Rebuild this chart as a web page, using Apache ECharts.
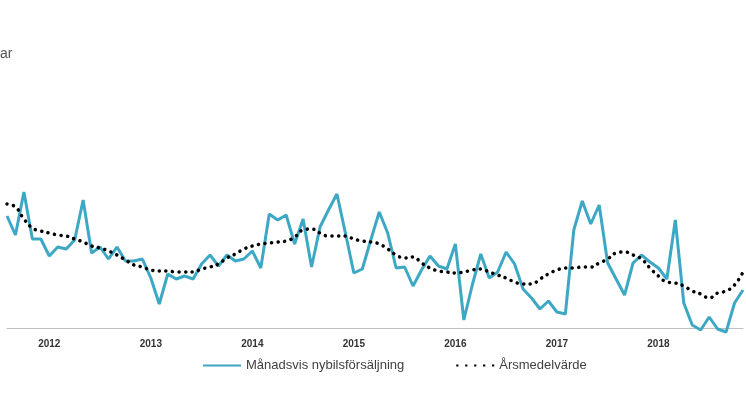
<!DOCTYPE html>
<html>
<head>
<meta charset="UTF-8">
<script src="https://cdn.jsdelivr.net/npm/echarts@6/dist/echarts.min.js"></script>
</head>
<body style="margin:0">
<div id="main" style="width:746px;height:419px;"></div>
<script>
// values (relative height, unitless)
var monthly = [216,235,192,239,239,256,247,249,240,200,253,247,259,247,261,261,259,278,304,274,279,276,279,264,255,266,255,261,259,251,268,214,220,215,244,219,267,227,210,194,233,
  273,269,240,212,233,268,267,286,270,256,266,269,244,320,285,254,278,272,252,264,289,298,309,301,312,314,230,201,224,205,263,279,295,263,255,262,268,279,220,303,325,330,317,329,332,303,290];
var yearly = [204,207,219,228,231,233,235,236,239,242,246,248,251,255,260,265,267,270,271,271,272,272,272,269,267,264,258,254,249,246,244,243,242,241,237,230,229,233,236,236,236,239,241,242,
  244,249,255,258,257,263,268,271,272,273,272,270,269,272,275,278,282,284,284,279,274,270,268,268,267,267,263,259,253,252,255,259,268,276,282,283,286,291,294,298,293,291,285,272];
var years = ['2012','2013','2014','2015','2016','2017','2018'];
var firstLabel = 5;

var cats = monthly.map(function (v, i) {
  var k = i - firstLabel;
  return (k >= 0 && k % 12 === 0) ? years[k / 12] : '';
});
function flip(a) { return a.map(function (y) { return 328 - y; }); }

var chart = echarts.init(document.getElementById('main'));
chart.setOption({
  animation: false,
  textStyle: { fontFamily: 'Liberation Sans' },
  graphic: [{ type: 'text', left: 0, top: 47, style: { text: 'ar', fontSize: 14, fill: '#555', fontFamily: 'Liberation Sans' } }],
  grid: { left: 7, right: -7, top: 0, bottom: 91 },
  legend: {
    bottom: 42, left: 198, itemWidth: 38, itemHeight: 10, itemGap: 52,
    textStyle: { fontSize: 13, color: '#404040' },
    data: [
      { name: 'Månadsvis nybilsförsäljning', icon: 'path://M0,4L38,4L38,6L0,6Z', itemStyle: { color: '#3da8c4' } },
      { name: 'Årsmedelvärde', icon: 'path://M0,4L2,4L2,6L0,6ZM8,4L10,4L10,6L8,6ZM16,4L18,4L18,6L16,6ZM24,4L26,4L26,6L24,6ZM32,4L34,4L34,6L32,6Z', itemStyle: { color: '#000' } }
    ]
  },
  xAxis: {
    type: 'category', data: cats, boundaryGap: false,
    axisLine: { lineStyle: { color: '#bfbfbf' } },
    axisTick: { show: false },
    axisLabel: { interval: 0, fontSize: 10, fontWeight: 'bold', color: '#333', margin: 11 }
  },
  yAxis: { type: 'value', min: 0, max: 328, show: false, splitLine: { show: false } },
  series: [
    { name: 'Månadsvis nybilsförsäljning', type: 'line', data: flip(monthly), symbol: 'none', clip: false,
      lineStyle: { color: '#3da8c4', width: 3 }, itemStyle: { color: '#3da8c4' } },
    { name: 'Årsmedelvärde', type: 'line', data: flip(yearly), symbol: 'none', smooth: true,
      lineStyle: { color: '#000', width: 3.5, type: [0.1, 6.5], cap: 'round' }, itemStyle: { color: '#000' } }
  ]
});
</script>
</body>
</html>
